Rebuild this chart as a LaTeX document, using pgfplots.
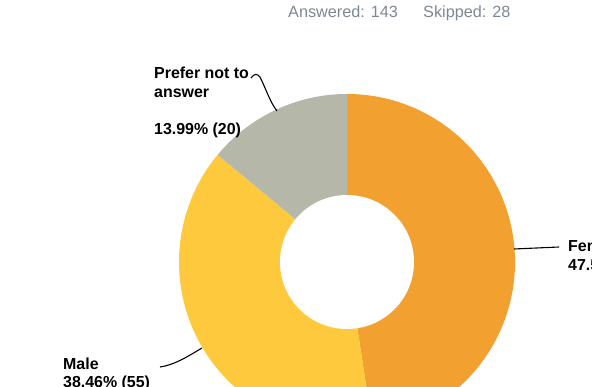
\documentclass[border=0pt]{standalone}
\usepackage{pgfplots}
\usepackage{pgfplotstable}
\pgfplotsset{compat=1.18}
\usepackage{fontspec}
\setmainfont{Liberation Sans}

\definecolor{cFemale}{HTML}{F2A02F}
\definecolor{cMale}{HTML}{FEC93D}
\definecolor{cPrefer}{HTML}{B5B7A8}
\definecolor{cHead}{HTML}{7D8895}

% share of answers, in percent
\pgfplotstableread{
label  value  count
Female 47.55  68
Male   38.46  55
Prefer 13.99  20
}\answers

\pgfplotstablegetelem{0}{value}\of\answers \let\vFemale\pgfplotsretval
\pgfplotstablegetelem{1}{value}\of\answers \let\vMale\pgfplotsretval
\pgfplotstablegetelem{2}{value}\of\answers \let\vPrefer\pgfplotsretval
% start at 12 o'clock, go clockwise
\pgfmathsetmacro{\aA}{90}
\pgfmathsetmacro{\aB}{\aA-3.6*\vFemale}
\pgfmathsetmacro{\aC}{\aB-3.6*\vMale}
\pgfmathsetmacro{\aD}{\aC-3.6*\vPrefer}

\newcommand{\lbl}{\fontsize{16}{19}\selectfont\bfseries}

\begin{document}
\begin{tikzpicture}
\begin{axis}[
    scale only axis,
    width=592bp, height=387bp,
    xmin=0, xmax=592, ymin=0, ymax=387,
    hide axis,
    clip=true,
  ]
  % donut, centre (347,125), radii 168 / 67
  \fill[cFemale] (axis cs:347,125) -- ++(\aA:168bp) arc[start angle=\aA, end angle=\aB, radius=168bp] -- cycle;
  \fill[cMale]   (axis cs:347,125) -- ++(\aB:168bp) arc[start angle=\aB, end angle=\aC, radius=168bp] -- cycle;
  \fill[cPrefer] (axis cs:347,125) -- ++(\aC:168bp) arc[start angle=\aC, end angle=\aD, radius=168bp] -- cycle;
  \fill[white] (axis cs:347,125) circle[radius=67bp];

  % header
  \node[anchor=base west, text=cHead, font=\fontsize{16.3}{19}\selectfont, inner sep=0pt] at (axis cs:288,369) {Answered: 143};
  \node[anchor=base west, text=cHead, font=\fontsize{16.3}{19}\selectfont, inner sep=0pt] at (axis cs:423,369) {Skipped: 28};

  % leader lines
  \draw[black, line width=1.1pt] (axis cs:251,309) .. controls (axis cs:254,313) and (axis cs:257,314) .. (axis cs:260,310) .. controls (axis cs:266,298) and (axis cs:270,285) .. (axis cs:277,276);
  \draw[black, line width=1.1pt] (axis cs:514,138) -- (axis cs:559,140);
  \draw[black, line width=1.1pt] (axis cs:160,20) .. controls (axis cs:175,22) and (axis cs:190,32) .. (axis cs:202,39);

  % labels
  \node[anchor=base west, inner sep=0pt, font=\lbl] at (axis cs:154,308) {Prefer not to};
  \node[anchor=base west, inner sep=0pt, font=\lbl] at (axis cs:154,289) {answer};
  \node[anchor=base west, inner sep=0pt, font=\lbl] at (axis cs:154,252) {13.99\% (20)};
  \node[anchor=base west, inner sep=0pt, font=\lbl] at (axis cs:568,135) {Female};
  \node[anchor=base west, inner sep=0pt, font=\lbl] at (axis cs:568,116) {47.55\% (68)};
  \node[anchor=base west, inner sep=0pt, font=\lbl] at (axis cs:63,18) {Male};
  \node[anchor=base west, inner sep=0pt, font=\lbl] at (axis cs:63,0) {38.46\% (55)};
\end{axis}
\pgfresetboundingbox
\useasboundingbox (current axis.south west) rectangle (current axis.north east);
\end{tikzpicture}
\end{document}
